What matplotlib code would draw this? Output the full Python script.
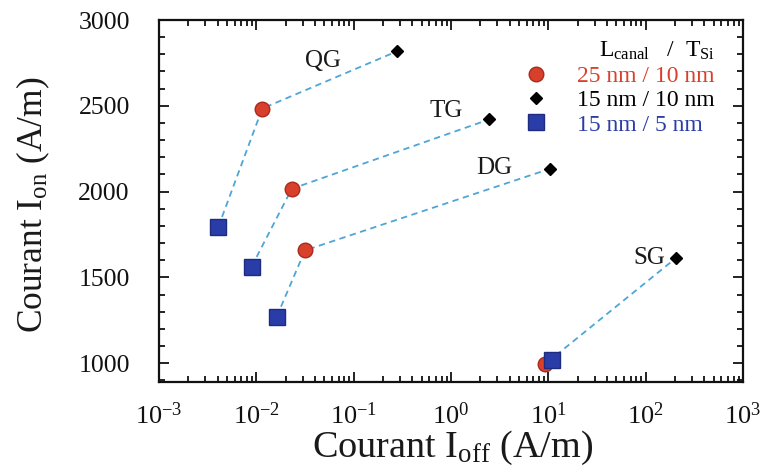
import matplotlib
matplotlib.use("Agg")
import matplotlib.pyplot as plt
from matplotlib.ticker import LogLocator, MultipleLocator, NullFormatter

plt.rcParams['font.family'] = ['Liberation Serif', 'DejaVu Serif']
plt.rcParams['mathtext.fontset'] = 'custom'
plt.rcParams['mathtext.rm'] = 'Liberation Serif'
plt.rcParams['mathtext.it'] = 'Liberation Serif:italic'
plt.rcParams['mathtext.bf'] = 'Liberation Serif:bold'

# ---- data ----
groups = ['QG', 'TG', 'DG', 'SG']
ioff_25_10 = [0.0115, 0.0231, 0.0316, 9.25]
ion_25_10 = [2484, 2016, 1657, 994]
ioff_15_10 = [0.277, 2.48, 10.4, 204]
ion_15_10 = [2817, 2421, 2133, 1612]
ioff_15_5 = [0.00406, 0.00895, 0.0162, 10.8]
ion_15_5 = [1793, 1563, 1271, 1017]
label_x = [0.0484, 0.89, 2.77, 108]
label_y = [2760, 2468, 2140, 1614]
legend_labels = ['25 nm / 10 nm', '15 nm / 10 nm', '15 nm / 5 nm']
legend_title = r'$\mathrm{L_{canal}}$   /  $\mathrm{T_{Si}}$'

red = '#d8402c'
blue = '#2a3ca8'
line_col = '#4ea6d6'

fig = plt.figure(figsize=(7.66, 4.73), dpi=100)
ax = fig.add_axes([0.2076, 0.1924, 0.7624, 0.7653])

for i in range(len(groups)):
    ax.plot([ioff_15_5[i], ioff_25_10[i], ioff_15_10[i]],
            [ion_15_5[i], ion_25_10[i], ion_15_10[i]],
            linestyle=(0, (3.5, 2.5)), color=line_col, lw=1.3, zorder=1)

h_red, = ax.plot(ioff_25_10, ion_25_10, 'o', ls='none', ms=10.5, mfc=red, mec='#a82a1c',
                 mew=1.0, zorder=3)
h_blk, = ax.plot(ioff_15_10, ion_15_10, 'D', ls='none', ms=6.5, mfc='black', mec='black',
                 zorder=3)
h_blu, = ax.plot(ioff_15_5, ion_15_5, 's', ls='none', ms=11.5, mfc=blue, mec='#1e2c80',
                 mew=1.0, zorder=4)

for g, x, y in zip(groups, label_x, label_y):
    ax.text(x, y, g, fontsize=18, ha='center', va='center', color='#1a1a1a', zorder=2)

ax.set_xscale('log')
ax.set_xlim(1e-3, 1e3)
ax.set_ylim(890, 3000)

ax.xaxis.set_major_locator(LogLocator(base=10, numticks=20))
ax.xaxis.set_minor_locator(LogLocator(base=10, subs=range(2, 10), numticks=100))
ax.xaxis.set_minor_formatter(NullFormatter())
ax.yaxis.set_major_locator(MultipleLocator(500))
ax.yaxis.set_minor_locator(MultipleLocator(100))

ax.tick_params(which='both', direction='in', top=True, right=True, width=1.3, colors='#111111')
ax.tick_params(which='major', length=7)
ax.tick_params(which='minor', length=4.5)
ax.tick_params(axis='y', which='major', labelsize=18.5, pad=21)
ax.tick_params(axis='x', which='major', labelsize=19, pad=15)
for s in ax.spines.values():
    s.set_linewidth(1.6)
    s.set_color('#111111')

ax.set_xlabel(r'Courant I$_{\mathrm{off}}$ (A/m)', fontsize=27.5, color='#1a1a1a')
ax.set_ylabel(r'Courant I$_{\mathrm{on}}$ (A/m)', fontsize=25.5, color='#1a1a1a')
ax.xaxis.set_label_coords(0.503, -0.13)
ax.yaxis.set_label_coords(-0.184, 0.49)

leg = ax.legend([h_red, h_blk, h_blu], legend_labels, title=legend_title,
                loc='upper left', bbox_to_anchor=(0.593, 0.99), frameon=False,
                fontsize=17, title_fontsize=17, labelspacing=0.12, handletextpad=1.15,
                borderpad=0.2, handlelength=1.2)
for t, c in zip(leg.get_texts(), [red, 'black', blue]):
    t.set_color(c)
leg._legend_box.align = 'right'

fig.savefig('out.png', dpi=100)
